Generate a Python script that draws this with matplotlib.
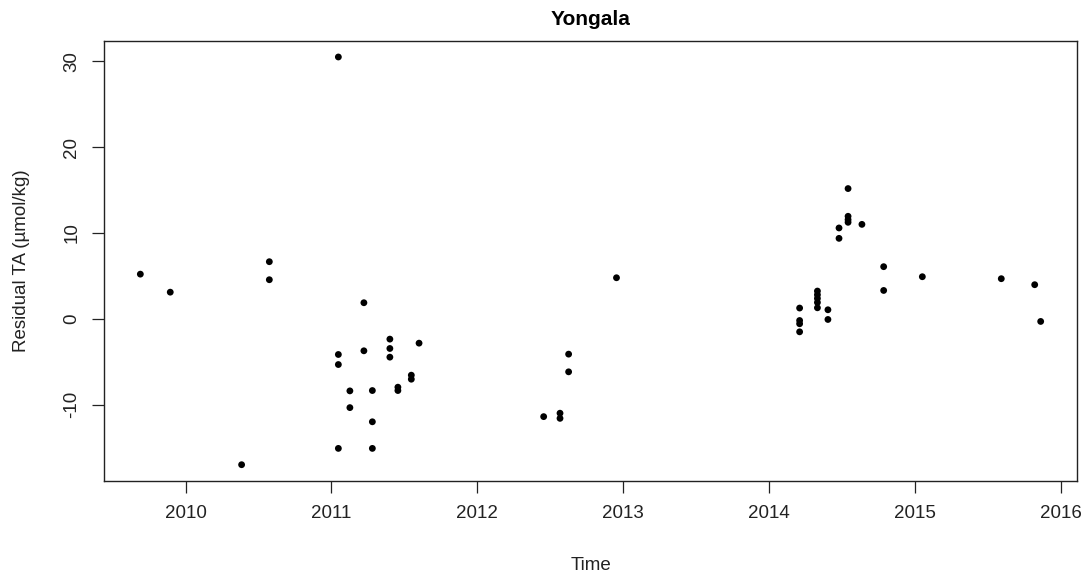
import numpy as np
import matplotlib
matplotlib.use("Agg")
import matplotlib.pyplot as plt

plt.rcParams['font.family'] = ['Liberation Sans', 'DejaVu Sans']

# decimal year of each sample and its TA residual (umol/kg)
time = [2009.69, 2009.895, 2010.384, 2010.574, 2010.574,
        2011.047, 2011.047, 2011.047, 2011.047, 2011.126, 2011.126,
        2011.222, 2011.222, 2011.28, 2011.28, 2011.28,
        2011.40, 2011.40, 2011.40, 2011.455, 2011.455,
        2011.547, 2011.547, 2011.60,
        2012.454, 2012.566, 2012.566, 2012.625, 2012.625, 2012.953,
        2014.208, 2014.208, 2014.208, 2014.208,
        2014.33, 2014.33, 2014.33, 2014.33, 2014.33,
        2014.402, 2014.402, 2014.478, 2014.478,
        2014.54, 2014.54, 2014.54, 2014.54, 2014.635,
        2014.784, 2014.784, 2015.049, 2015.59, 2015.819, 2015.86]
resid = [5.2, 3.1, -17.0, 6.65, 4.55,
         30.5, -4.16, -5.33, -15.1, -8.4, -10.35,
         1.87, -3.73, -8.36, -12.0, -15.1,
         -2.37, -3.46, -4.47, -7.97, -8.36,
         -6.57, -7.04, -2.84,
         -11.4, -11.0, -11.6, -4.12, -6.18, 4.78,
         1.25, -0.2, -0.58, -1.52,
         3.23, 2.8, 2.37, 1.9, 1.28,
         1.05, -0.08, 10.58, 9.37,
         15.17, 11.94, 11.55, 11.24, 11.0,
         6.07, 3.3, 4.9, 4.67, 3.97, -0.31]

xticks = [2010, 2011, 2012, 2013, 2014, 2015, 2016]
yticks = [-10, 0, 10, 20, 30]

fig = plt.figure(figsize=(10.89, 5.81), dpi=100)
ax = fig.add_axes([0.0958, 0.1721, 0.8929, 0.7579])

ax.scatter(time, resid, s=24, c='black', edgecolors='none', zorder=3)

# R-style 4% padding of the data range
def pad(v):
    lo, hi = min(v), max(v)
    d = (hi - lo) * 0.04
    return lo - d, hi + d

ax.set_xlim(*pad(time))
ax.set_ylim(*pad(resid))

ax.set_xticks(xticks)
ax.set_xticklabels([str(t) for t in xticks])
ax.set_yticks(yticks)
ax.set_yticklabels([str(t) for t in yticks])

for s in ax.spines.values():
    s.set_linewidth(1.0)
    s.set_color('#222222')

ax.tick_params(direction='out', length=8.4, width=0.9, color='#222222',
               labelsize=13.5, labelcolor='#222222', pad=9)
ax.tick_params(axis='y', labelrotation=90)
for tl in ax.get_yticklabels():
    tl.set_va('center')

ax.set_title('Yongala', fontsize=15, fontweight='bold', pad=11)
ax.set_xlabel('Time', fontsize=13.5, color='#222222')
ax.set_ylabel('Residual TA (\u00b5mol/kg)', fontsize=13.5, color='#222222')
ax.xaxis.set_label_coords(0.5, -0.172)
ax.yaxis.set_label_coords(-0.0764, 0.5)

fig.savefig('out.png', dpi=100)
